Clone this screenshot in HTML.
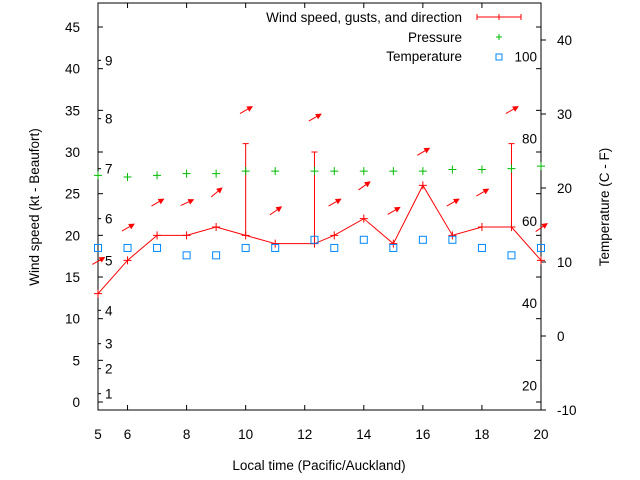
<!DOCTYPE html>
<html><head><meta charset="utf-8"><style>
body{margin:0;background:#fff}
svg{display:block;font-family:"Liberation Sans",sans-serif;font-size:13.5px}
</style></head><body>
<svg id="c" width="640" height="480"></svg>
<script>
const times=[5,6,7,8,9,10,11,12.33,13,14,15,16,17,18,19,20];
const wind=[13,17,20,20,21,20,19,19,20,22,19,26,20,21,21,17];
const gustTimes=[10,12.33,19];
const gusts=[31,30,31];
const pressure=[27.2,27,27.2,27.4,27.4,27.7,27.7,27.7,27.7,27.7,27.7,27.7,27.9,27.9,28,28.3];
const temperature=[11.9,11.9,11.9,10.9,10.9,11.9,11.9,13,11.9,13,11.9,13,13,11.9,10.9,11.9];
const arrowLevel=[16.9,20.9,23.9,23.9,25.1,35,22.9,34.1,23.9,25.9,22.9,30,23.9,25.1,35,20.9];
const arrowDir=[210,210,210,205,220,210,215,210,210,215,210,210,210,210,210,215];
const leftTicks=[0,5,10,15,20,25,30,35,40,45];
const rightTicks=[-10,0,10,20,30,40];
const xTicks=[6,8,10,12,14,16,18,20];
const beaufortKt=[1,4,7,11,17,22,28,34,41];
const beaufortLabels=["1","2","3","4","5","6","7","8","9"];
const fahrenheit=[20,40,60,80,100];

const L=98,R=541,T=3,B=410;
const X=t=>L+(t-5)*(R-L)/15;
const Y=v=>402-v*8.333;
const YR=c=>336-c*7.4;
const s=document.getElementById('c');
const NS='http://www.w3.org/2000/svg';
function mk(tag,a,parent){const e=document.createElementNS(NS,tag);for(const k in a)e.setAttribute(k,a[k]);(parent||s).appendChild(e);return e;}
function txt(x,y,str,anchor,name,extra){const e=mk('text',Object.assign({x:x,y:y,'text-anchor':anchor||'start',fill:'#000'},extra||{}));e.textContent=str;


return e;}

const fr=mk('rect',{x:L,y:T,width:R-L,height:B-T,fill:'none',stroke:'#000','stroke-width':1});



leftTicks.forEach(v=>{const y=Y(v);mk('line',{x1:L,y1:y,x2:L+5,y2:y,stroke:'#000'});mk('line',{x1:R,y1:y,x2:R-5,y2:y,stroke:'#000'});
txt(L-18,y+5,String(v),'end','left-tick-label');});
rightTicks.forEach(v=>{const y=YR(v);mk('line',{x1:R,y1:y,x2:R+5,y2:y,stroke:'#000'});
txt(R+16,y+5,String(v),'start','right-tick-label');});
xTicks.forEach(v=>{const x=X(v);mk('line',{x1:x,y1:B,x2:x,y2:B-5,stroke:'#000'});mk('line',{x1:x,y1:T,x2:x,y2:T+5,stroke:'#000'});
txt(x,B+29,String(v),'middle','x-tick-label');});
txt(L,B+29,'5','middle','x-tick-label');
beaufortKt.forEach((k,i)=>{const y=Y(k);mk('line',{x1:L,y1:y,x2:L+3,y2:y,stroke:'#000'});
txt(105,y+5,beaufortLabels[i],'start','beaufort-label');});
fahrenheit.forEach(f=>{const y=YR((f-32)*5/9);txt(537,y+5,String(f),'end','fahrenheit-label');});

txt(319,470,'Local time (Pacific/Auckland)','middle','x-axis-title');
txt(0,0,'Wind speed (kt - Beaufort)','middle','y-axis-title',{transform:'translate(39,207) rotate(-90)'});
txt(0,0,'Temperature (C - F)','middle','y2-axis-title',{transform:'translate(609,207) rotate(-90)'});

const wl=mk('polyline',{points:times.map((t,i)=>X(t)+','+Y(wind[i])).join(' '),fill:'none',stroke:'#f00','stroke-width':1});


times.forEach((t,i)=>{const x=X(t),y=Y(wind[i]);const g=mk('path',{d:`M${x-4},${y}h8M${x},${y-4}v8`,stroke:'#f00'});

});
gustTimes.forEach((t,i)=>{const ti=times.indexOf(t);const x=X(t);const g=mk('path',{d:`M${x},${Y(wind[ti])}V${Y(gusts[i])}M${x-3},${Y(gusts[i])}h6`,stroke:'#f00'});

});
times.forEach((t,i)=>{const x=X(t),y=Y(arrowLevel[i]);const a=(arrowDir[i]-180)*Math.PI/180;
const dx=Math.cos(a),dy=-Math.sin(a);const len=13;const x0=x-dx*len/2,y0=y-dy*len/2,x1=x+dx*len/2,y1=y+dy*len/2;
const px=-dy,py=dx;
const g=mk('g',{});


mk('line',{x1:x0,y1:y0,x2:x1,y2:y1,stroke:'#f00'},g);
mk('polygon',{points:`${x1+dx*2},${y1+dy*2} ${x1-dx*4+px*3},${y1-dy*4+py*3} ${x1-dx*4-px*3},${y1-dy*4-py*3}`,fill:'#f00'},g);});
times.forEach((t,i)=>{const x=X(t),y=Y(pressure[i]);const g=mk('path',{d:`M${x-4},${y}h8M${x},${y-4}v8`,stroke:'#0b0'});

});
times.forEach((t,i)=>{const x=X(t),y=YR(temperature[i]);const g=mk('rect',{x:x-3.5,y:y-3.5,width:7,height:7,fill:'none',stroke:'#08f'});

});

txt(462,22,'Wind speed, gusts, and direction','end','legend-wind');
mk('path',{d:'M477,17h44M477,14v6M521,14v6M499,14v6',stroke:'#f00'});
txt(462,42,'Pressure','end','legend-pressure');
mk('path',{d:'M496,37h6M499,34v6',stroke:'#0b0'});
txt(462,61,'Temperature','end','legend-temperature');
mk('rect',{x:496,y:54,width:6,height:6,fill:'none',stroke:'#08f'});
</script>
</body></html>
